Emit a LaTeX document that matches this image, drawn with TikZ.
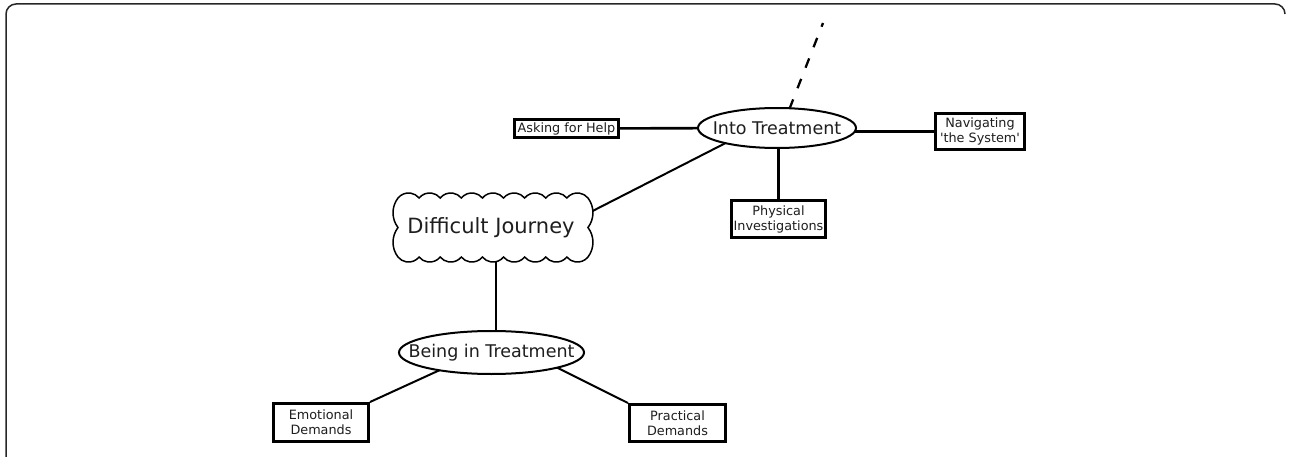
\documentclass[tikz,border=0pt]{standalone}
\usepackage{fontspec}
\setmainfont{DejaVu Sans}[Ligatures=TeXOff]
\usetikzlibrary{shapes.geometric}
\pgfdeclarelayer{bg}
\pgfsetlayers{bg,main}
\definecolor{txt}{HTML}{1E1E1E}
\begin{document}
\begin{tikzpicture}[x=1pt,y=1pt,
  box/.style={draw=black,line width=3pt,fill=white,inner sep=0pt,align=center,
    font=\fontsize{12.8}{15}\selectfont,text=txt},
  oval/.style={ellipse,draw=black,line width=2pt,fill=white,inner sep=0pt},
  ovaltext/.style={font=\fontsize{17.5}{20}\selectfont,text=txt,inner sep=0pt},
  conn/.style={line width=2.6pt},
  diag/.style={line width=2pt}]
\useasboundingbox (0,0) rectangle (1290,456);
% outer frame
\draw[line width=1.5pt,draw=black!85] (6,-5) -- (6,442)
  arc[start angle=180,end angle=90,radius=10] -- (1275,452)
  arc[start angle=90,end angle=0,radius=10];
% Into Treatment
\node[oval,minimum width=158,minimum height=40] (IT) at (777,328) {};
\node[ovaltext] (ITt) at (IT.center) {Into Treatment};
\node[box,minimum width=104,minimum height=18] (AH) at (566.5,327.5) {Asking for Help};
\node[box,minimum width=89,minimum height=36] (NS) at (980,324.5) {Navigating\\'the System'};
\node[box,minimum width=94,minimum height=37] (PI) at (778.5,237) {Physical\\Investigations};
% cloud
\draw[line width=1.5pt,fill=white] (398,258)
  foreach \i in {1,...,9}{ arc[start angle=140.9,end angle=39.1,radius=13.6] }
  foreach \i in {1,2}{ arc[start angle=37.4,end angle=-37.4,radius=24.3] }
  foreach \i in {1,...,9}{ arc[start angle=-39.1,end angle=-140.9,radius=13.6] }
  foreach \i in {1,2}{ arc[start angle=217.4,end angle=142.6,radius=24.3] }
  -- cycle;
\node[minimum width=201,minimum height=69,inner sep=0pt,text=txt,
  font=\fontsize{21}{24}\selectfont] (DJ) at (491,228.5) {Difficult Journey};
% Being in Treatment
\node[oval,minimum width=185,minimum height=43] (BT) at (491.5,103.5) {};
\node[ovaltext] (BTt) at (BT.center) {Being in Treatment};
\node[box,minimum width=95,minimum height=38] (ED) at (321,33.5) {Emotional\\Demands};
\node[box,minimum width=96,minimum height=37] (PD) at (677.5,33) {Practical\\Demands};
\coordinate (dtop) at (823,433);
\begin{pgfonlayer}{bg}
\draw[conn] (AH.center) -- (IT.center);
\draw[conn] (NS.west) -- (NS.west -| IT.center);
\draw[conn] (PI.north) -- (PI.north |- IT.center);
\draw[diag] ([shift={(-47,-12.8)}]IT.center) -- ([shift={(87.5,9.3)}]DJ.center);
\draw[conn] ([xshift=5pt]DJ.south) -- ([xshift=5pt]DJ.south |- BT.center);
\draw[diag] ([shift={(-41.5,-12.9)}]BT.center) -- (ED.north east);
\draw[diag] ([shift={(56.5,-10.6)}]BT.center) -- (PD.north west);
\draw[line width=2.3pt,dash pattern=on 10pt off 12pt,dash phase=6pt] (dtop) -- ([xshift=5pt]IT.center);
\end{pgfonlayer}
\end{tikzpicture}
\end{document}
